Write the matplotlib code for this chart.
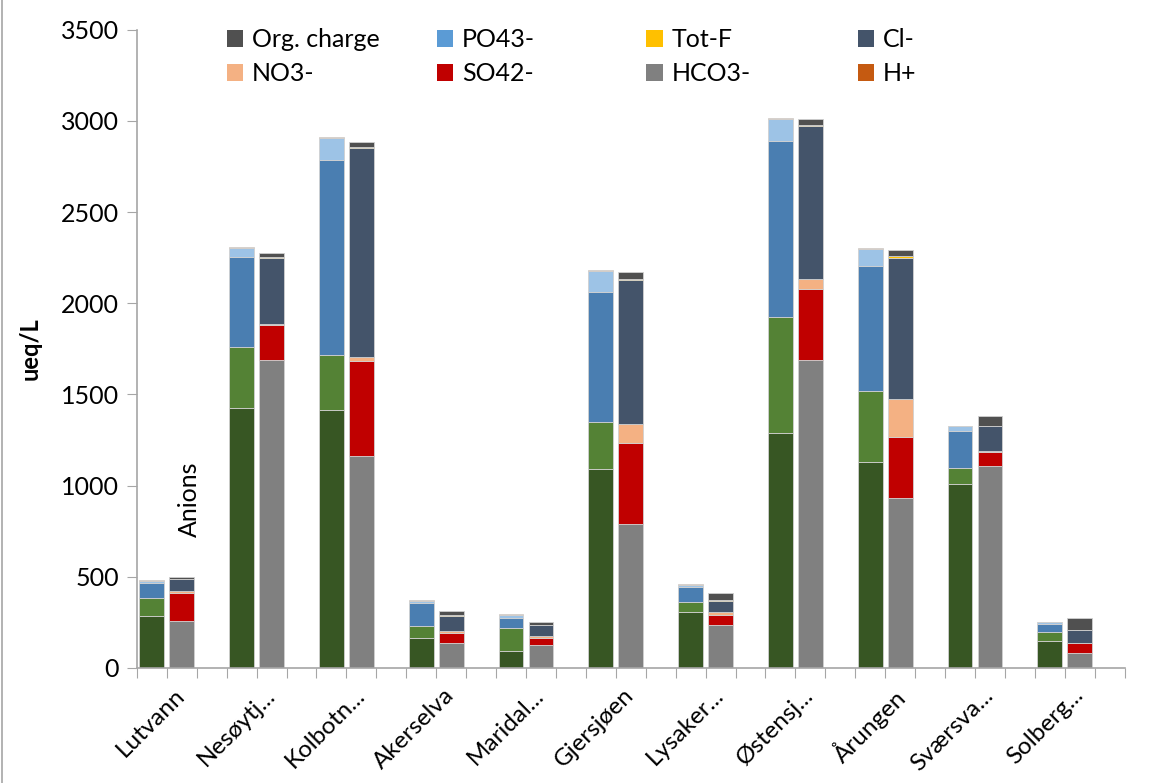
import numpy as np
import matplotlib
matplotlib.use("Agg")
import matplotlib.pyplot as plt
from matplotlib.patches import Patch
from matplotlib.lines import Line2D

plt.rcParams['font.family'] = ['Lato', 'DejaVu Sans']

sites = ["Lutvann", "Nesøytj...", "Kolbotn...", "Akerselva", "Maridal...",
         "Gjersjøen", "Lysaker...", "Østensj...", "Årungen", "Sværsva...",
         "Solberg..."]

# cations (ueq/L)
ca = [285, 1426, 1412, 163, 95, 1090, 305, 1289, 1130, 1008, 145]
mg = [101, 333, 305, 69, 126, 261, 55, 637, 391, 86, 53]
na = [82, 492, 1070, 123, 53, 708, 86, 965, 686, 208, 45]
k = [11, 53, 120, 11, 15, 117, 11, 119, 92, 22, 6]
nh4 = [4, 6, 6, 5, 4, 4, 4, 4, 5, 5, 0]

# anions (ueq/L)
hco3 = [258, 1686, 1163, 139, 128, 790, 236, 1690, 933, 1108, 81]
so4 = [155, 196, 521, 55, 38, 446, 55, 389, 334, 75, 55]
no3 = [7, 5, 22, 11, 11, 101, 18, 55, 210, 7, 3]
cl = [67, 361, 1147, 80, 57, 790, 60, 836, 771, 134, 69]
totf = [3, 3, 5, 6, 3, 7, 6, 9, 9, 5, 1]
org = [11, 27, 28, 23, 17, 35, 35, 31, 36, 50, 67]

cation_series = [(ca, '#375623'), (mg, '#548235'), (na, '#4a7eb1'),
                 (k, '#9dc3e6'), (nh4, '#f4b183')]
anion_series = [(hco3, '#808080'), (so4, '#c00000'), (no3, '#f4b183'),
                (cl, '#44546a'), (totf, '#ffc000'), (org, '#505050')]

fig = plt.figure(figsize=(11.5, 7.83), dpi=100)
ax = fig.add_axes([0.119, 0.147, 0.859, 0.815])

n = len(sites)
xc = np.arange(n) * 3
xa = xc + 1
w = 0.83

def stack(ax, x, series):
    bottom = np.zeros(n)
    for vals, col in series:
        vals = np.array(vals, dtype=float)
        ax.bar(x, vals, w, bottom=bottom, color=col, edgecolor='#d0d0d0',
               linewidth=0.6)
        bottom += vals

stack(ax, xc, cation_series)
stack(ax, xa, anion_series)

ax.set_xlim(-0.5, 3 * n - 0.5)
ax.set_ylim(0, 3500)
ax.set_yticks(np.arange(0, 3501, 500))
ax.tick_params(axis='y', labelsize=18, length=7, color='#a6a6a6', pad=6)
ax.set_xticks(np.arange(-0.5, 3 * n, 1.0))
ax.set_xticklabels([])
ax.tick_params(axis='x', length=7, color='#a6a6a6')
for i, s in enumerate(sites):
    ax.text(xc[i] + 0.75, -90, s, rotation=45, ha='right', va='top',
            rotation_mode='anchor', fontsize=17.5)

for side in ['top', 'right']:
    ax.spines[side].set_visible(False)
for side in ['left', 'bottom']:
    ax.spines[side].set_color('#a6a6a6')
    ax.spines[side].set_linewidth(1.2)

ax.set_ylabel('ueq/L', fontsize=17, fontweight='bold', labelpad=14)

ax.text(1.25, 925, 'Anions', rotation=90, ha='center', va='center',
        fontsize=18)

# legend laid out as four columns of two entries
legend_cols = [[('Org. charge', '#505050'), ('NO3-', '#f4b183')],
               [('PO43-', '#5b9bd5'), ('SO42-', '#c00000')],
               [('Tot-F', '#ffc000'), ('HCO3-', '#808080')],
               [('Cl-', '#44546a'), ('H+', '#c55a11')]]
col_x = [0.197, 0.380, 0.562, 0.746]
for items, x0 in zip(legend_cols, col_x):
    handles = [Patch(facecolor=c, edgecolor='none') for _, c in items]
    fig.legend(handles, [l for l, _ in items], frameon=False, fontsize=18,
               loc='upper left', bbox_to_anchor=(x0, 0.964),
               borderpad=0, borderaxespad=0,
               handlelength=0.65, handleheight=0.65, handletextpad=0.35,
               labelspacing=0.45)

fig.add_artist(Line2D([0.002, 0.002], [0, 1], color='#a6a6a6', lw=1.2))

fig.savefig('out.png', dpi=100)
